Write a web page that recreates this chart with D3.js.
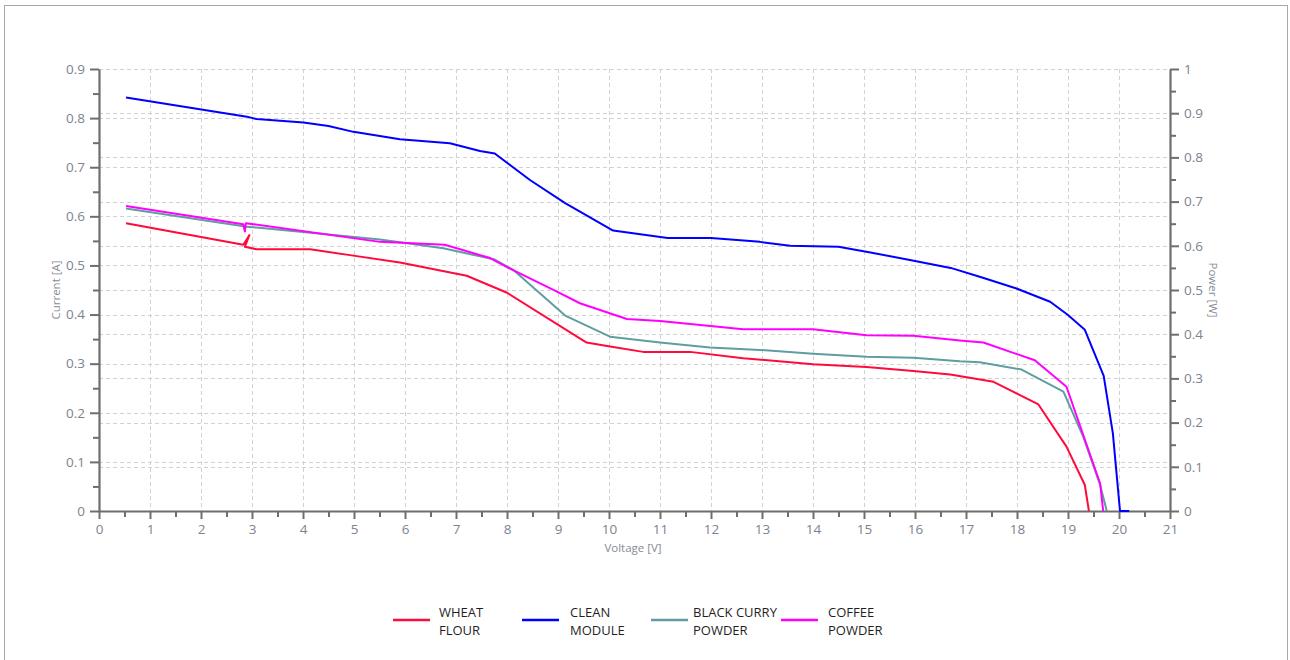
<!DOCTYPE html>
<html>
<head>
<meta charset="utf-8">
<script src="https://cdn.jsdelivr.net/npm/d3@7/dist/d3.min.js"></script>
<style>
  html, body { margin: 0; padding: 0; background: #fff; }
  svg { display: block; }
  .tick text { font-family: "Open Sans", sans-serif; }
</style>
</head>
<body>
<svg id="chart" width="1290" height="660"></svg>
<script>
// Axis ticks
const xTicks = d3.range(0, 22, 1);
const leftTicks = [0, 0.1, 0.2, 0.3, 0.4, 0.5, 0.6, 0.7, 0.8, 0.9];
const rightTicks = [0, 0.1, 0.2, 0.3, 0.4, 0.5, 0.6, 0.7, 0.8, 0.9, 1];

// I-V curves: voltage [V] and current [A] per sample
const wheatV = [0.53, 2.83, 2.95, 2.86, 3.09, 4.14, 4.92, 5.9, 7.21, 7.99, 9.56, 10.02, 10.67, 11.59, 12.63, 14.0, 15.05, 15.97, 16.69, 17.54, 18.42, 18.97, 19.33, 19.41];
const wheatI = [0.586, 0.542, 0.562, 0.538, 0.533, 0.533, 0.521, 0.506, 0.479, 0.445, 0.343, 0.335, 0.324, 0.324, 0.311, 0.299, 0.293, 0.285, 0.278, 0.263, 0.217, 0.131, 0.053, 0];

const cleanV = [0.53, 2.9, 3.09, 4.01, 4.5, 4.99, 5.9, 6.88, 7.47, 7.76, 8.45, 9.14, 10.08, 11.15, 12.0, 12.96, 13.55, 14.5, 15.1, 15.9, 16.7, 17.3, 17.99, 18.65, 19.0, 19.33, 19.7, 19.88, 19.94, 20.02, 20.2];
const cleanI = [0.842, 0.803, 0.798, 0.791, 0.784, 0.772, 0.757, 0.749, 0.733, 0.728, 0.674, 0.627, 0.571, 0.556, 0.556, 0.548, 0.540, 0.538, 0.527, 0.511, 0.495, 0.476, 0.453, 0.426, 0.399, 0.369, 0.275, 0.158, 0.09, 0, 0];

const curryV = [0.53, 2.9, 5.51, 6.75, 7.76, 8.12, 9.14, 10.02, 11.0, 11.98, 12.96, 14.0, 15.05, 15.97, 16.88, 17.27, 18.09, 18.91, 19.3, 19.63, 19.76];
const curryI = [0.616, 0.579, 0.553, 0.535, 0.512, 0.491, 0.398, 0.355, 0.343, 0.333, 0.328, 0.320, 0.314, 0.312, 0.305, 0.303, 0.288, 0.243, 0.151, 0.053, 0];

const coffeeV = [0.53, 2.83, 2.86, 2.88, 5.51, 6.78, 7.67, 7.99, 8.97, 9.43, 10.35, 11.0, 12.63, 14.0, 15.05, 15.97, 16.88, 17.34, 18.35, 18.97, 19.63, 19.69];
const coffeeI = [0.621, 0.584, 0.569, 0.586, 0.548, 0.542, 0.515, 0.497, 0.447, 0.423, 0.391, 0.387, 0.370, 0.370, 0.358, 0.357, 0.347, 0.343, 0.307, 0.253, 0.056, 0];

const seriesNames = [["WHEAT", "FLOUR"], ["CLEAN", "MODULE"], ["BLACK CURRY", "POWDER"], ["COFFEE", "POWDER"]];
const seriesColors = ["#ff0a3c", "#0000ff", "#5f9ea0", "#ff00ff"];

const series = [
  { v: wheatV, i: wheatI },
  { v: cleanV, i: cleanI },
  { v: curryV, i: curryI },
  { v: coffeeV, i: coffeeI }
].map((s, k) => ({
  name: seriesNames[k],
  color: seriesColors[k],
  points: s.v.map((v, j) => [v, s.i[j]])
}));

const svg = d3.select("#chart");

// outer frame (open at the bottom edge of the view)
svg.append("rect")
  .attr("x", 4.5).attr("y", 5.5)
  .attr("width", 1283).attr("height", 670)
  .attr("fill", "#fff").attr("stroke", "#a8a8a8").attr("stroke-width", 1);

const plot = { left: 99, right: 1170, top: 69, bottom: 511 };

const x = d3.scaleLinear().domain([0, 21]).range([plot.left, plot.right]);
const yL = d3.scaleLinear().domain([0, 0.9]).range([plot.bottom, plot.top]);
const yR = d3.scaleLinear().domain([0, 1]).range([plot.bottom, plot.top]);

// dashed grid
const grid = svg.append("g")
  .attr("stroke", "#d2d2d2").attr("stroke-width", 1)
  .attr("stroke-dasharray", "4,3").attr("fill", "none");
xTicks.forEach(t => {
  const px = Math.round(x(t)) + 0.5;
  grid.append("line").attr("x1", px).attr("x2", px).attr("y1", plot.top).attr("y2", plot.bottom);
});
leftTicks.forEach(t => {
  const py = Math.round(yL(t)) + 0.5;
  grid.append("line").attr("x1", plot.left).attr("x2", plot.right).attr("y1", py).attr("y2", py);
});
rightTicks.forEach(t => {
  const py = Math.round(yR(t)) + 0.5;
  grid.append("line").attr("x1", plot.left).attr("x2", plot.right).attr("y1", py).attr("y2", py);
});

const axisColor = "#6e6e6e";
const labelColor = "#7a8490";

function styleAxis(g) {
  g.select(".domain").attr("stroke", axisColor).attr("stroke-width", 2.2);
  g.selectAll(".tick line").attr("stroke", axisColor).attr("stroke-width", 2);
  g.selectAll(".tick text").attr("fill", labelColor).attr("font-size", 13.5);
}

function minorAxis(g) {
  g.select(".domain").remove();
  g.selectAll(".tick text").remove();
  g.selectAll(".tick line").attr("stroke", axisColor).attr("stroke-width", 2);
}

// minor ticks
svg.append("g").attr("transform", `translate(0,${plot.bottom})`)
  .call(d3.axisBottom(x).tickValues(d3.range(0.5, 21, 1)).tickSize(6).tickSizeOuter(0))
  .call(minorAxis);
svg.append("g").attr("transform", `translate(${plot.left},0)`)
  .call(d3.axisLeft(yL).tickValues(d3.range(0.05, 0.9, 0.1)).tickSize(6).tickSizeOuter(0))
  .call(minorAxis);
svg.append("g").attr("transform", `translate(${plot.right},0)`)
  .call(d3.axisRight(yR).tickValues(d3.range(0.05, 1, 0.1)).tickSize(6).tickSizeOuter(0))
  .call(minorAxis);

// major axes
svg.append("g").attr("transform", `translate(0,${plot.bottom})`)
  .call(d3.axisBottom(x).tickValues(xTicks).tickFormat(d3.format("d")).tickSize(8).tickSizeOuter(0).tickPadding(5))
  .call(styleAxis);
svg.append("g").attr("transform", `translate(${plot.left},0)`)
  .call(d3.axisLeft(yL).tickValues(leftTicks).tickFormat(d => d === 0 ? "0" : d3.format(".1f")(d)).tickSize(9).tickSizeOuter(0).tickPadding(5))
  .call(styleAxis);
svg.append("g").attr("transform", `translate(${plot.right},0)`)
  .call(d3.axisRight(yR).tickValues(rightTicks).tickFormat(d => (d === 0 || d === 1) ? d3.format("d")(d) : d3.format(".1f")(d)).tickSize(9).tickSizeOuter(0).tickPadding(5))
  .call(styleAxis);

// axis titles
const titleStyle = t => t.attr("font-family", "Open Sans, sans-serif").attr("font-size", 11.5).attr("fill", "#858c96");
svg.append("text").text("Voltage [V]")
  .attr("x", 633).attr("y", 552).attr("text-anchor", "middle").call(titleStyle);
svg.append("text").text("Current [A]")
  .attr("transform", "translate(60,290) rotate(-90)").attr("text-anchor", "middle").call(titleStyle);
svg.append("text").text("Power [W]")
  .attr("transform", "translate(1209,290) rotate(90)").attr("text-anchor", "middle").call(titleStyle);

// curves
const line = d3.line().x(d => x(d[0])).y(d => yL(d[1]));
svg.append("g").selectAll("path").data(series).join("path")
  .attr("d", d => line(d.points))
  .attr("fill", "none")
  .attr("stroke", d => d.color)
  .attr("stroke-width", 2)
  .attr("stroke-linejoin", "round");

// legend
const legendX = [393, 522, 651, 781];
const legendTextOffset = [46, 48, 42, 47];
const legend = svg.append("g");
series.forEach((s, k) => {
  const g = legend.append("g").attr("transform", `translate(${legendX[k]},0)`);
  g.append("line").attr("x1", 0).attr("x2", 37).attr("y1", 620).attr("y2", 620)
    .attr("stroke", s.color).attr("stroke-width", 2.5);
  const t = g.append("text").attr("x", legendTextOffset[k]).attr("y", 617)
    .attr("font-family", "Open Sans, sans-serif").attr("font-size", 13).attr("fill", "#1f1f1f");
  s.name.forEach((ln, j) => {
    t.append("tspan").attr("x", legendTextOffset[k]).attr("dy", j === 0 ? 0 : 18).text(ln);
  });
});
</script>
</body>
</html>
